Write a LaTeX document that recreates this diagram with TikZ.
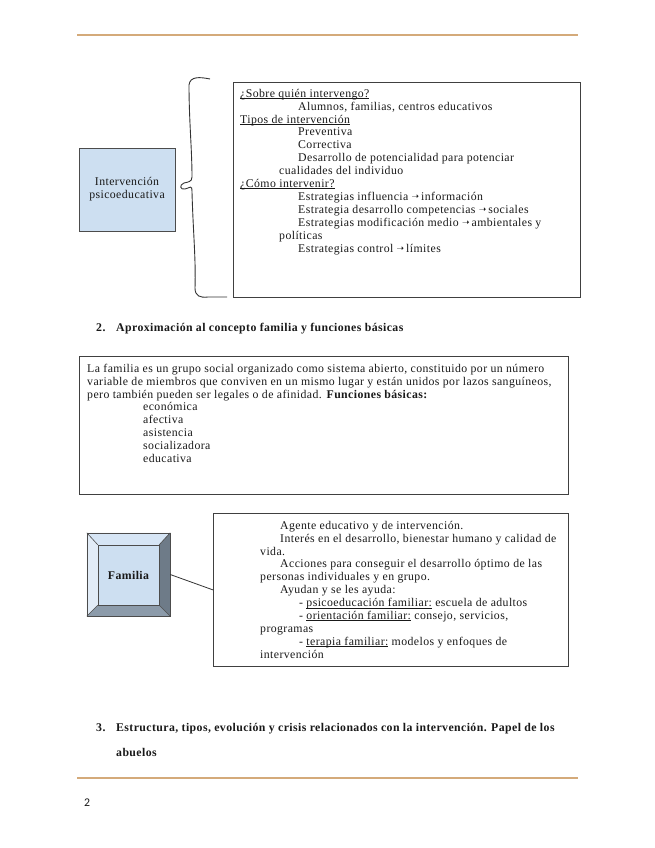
\documentclass[tikz,border=0pt]{standalone}
\usepackage{fontspec}
\setmainfont[LetterSpace=3.5]{Liberation Serif}
\newfontfamily\pagefont{Carlito}
\newfontfamily\simbolos{DejaVu Sans}
\usetikzlibrary{positioning}

\definecolor{reglaocre}{RGB}{212,170,122}
\definecolor{azulcaja}{RGB}{205,223,241}
\definecolor{biselclaro}{RGB}{226,236,247}
\definecolor{biselalto}{RGB}{214,229,245}
\definecolor{biseloscuro}{RGB}{110,123,136}
\definecolor{biselbajo}{RGB}{140,155,170}

\newcommand{\flecha}{\raisebox{0.1ex}{\simbolos\fontsize{9}{9}\selectfont ➝}}
\newcommand{\subrayar}[1]{\setbox0\hbox{#1}\rlap{\rule[-1.4pt]{\wd0}{0.5pt}}\box0\relax}

\begin{document}
\begin{tikzpicture}[
            x=1pt, y=-1pt,
            every node/.style={font=\fontsize{11.8}{12.9}\selectfont, inner sep=0pt, text=black!90},
            texto/.style={
                    align=left,
                    anchor=north west
                },
            marco/.style={
                    rectangle,
                    draw=black!75,
                    line width=0.8pt,
                    anchor=north west
                },
            concepto/.style={
                    rectangle,
                    draw=black!70,
                    fill=azulcaja,
                    line width=0.8pt,
                    minimum width=96pt,
                    minimum height=83pt,
                    align=center
                },
            titulo/.style={
                    font=\fontsize{11.8}{12.9}\selectfont\bfseries,
                    anchor=base west
                },
            regla/.style={
                    draw=reglaocre,
                    line width=2.6pt
                },
            enlace/.style={
                    draw=black!80,
                    line width=0.8pt
                }
            ]

            \useasboundingbox (0,0) rectangle (655,848);

            % Reglas de pagina
            \coordinate (ra) at (77,35);
            \coordinate (rb) at (578,35);
            \coordinate (rc) at (77,778);
            \coordinate (rd) at (578,778);
            \draw [regla] (ra) -- (rb);
            \draw [regla] (rc) -- (rd);

            % Intervencion psicoeducativa
            \node (interv) [concepto] at (127,189.5) {Intervención\\psicoeducativa};

            \node (quienbox) [marco, minimum width=347pt, minimum height=215pt] at (233,82) {};

            \node (quientxt) [texto] at (240,88) {\strut\subrayar{¿Sobre quién intervengo?}\\
                \hspace*{58pt}Alumnos, familias, centros educativos\\
                \subrayar{Tipos de intervención}\\
                \hspace*{58pt}Preventiva\\
                \hspace*{58pt}Correctiva\\
                \hspace*{58pt}Desarrollo de potencialidad para potenciar\\
                \hspace*{39pt}cualidades del individuo\\
                \subrayar{¿Cómo intervenir?}\\
                \hspace*{58pt}Estrategias influencia \flecha\,información\\
                \hspace*{58pt}Estrategia desarrollo competencias \flecha\,sociales\\
                \hspace*{58pt}Estrategias modificación medio \flecha\,ambientales y\\
                \hspace*{39pt}políticas\\
                \hspace*{58pt}Estrategias control \flecha\,límites};

            % Llave
            \draw [black!80, line width=0.9pt]
                (210,79) .. controls (200,77) and (190,76) .. (189,85)
                .. controls (189,120) and (192,150) .. (192,177)
                .. controls (192,182) and (188,182) .. (184,183)
                .. controls (179,185) and (180,190) .. (185,189)
                .. controls (190,188) and (192,184) .. (192,192)
                .. controls (193,230) and (196,260) .. (195,288)
                .. controls (195,296) and (200,298) .. (208,297) -- (227,297);

            % Seccion 2
            \node (num2) [titulo] at (96,331) {2.};
            \node (tit2) [titulo] at (116,331) {Aproximación al concepto familia y funciones básicas};

            \node (famdef) [marco, minimum width=489pt, minimum height=138pt] at (79,356) {};

            \node (famtxt) [texto] at (87,363) {\strut La familia es un grupo social organizado como sistema abierto, constituido por un número\\
                variable de miembros que conviven en un mismo lugar y están unidos por lazos sanguíneos,\\
                pero también pueden ser legales o de afinidad. \textbf{Funciones básicas:}\\
                \hspace*{56pt}económica\\
                \hspace*{56pt}afectiva\\
                \hspace*{56pt}asistencia\\
                \hspace*{56pt}socializadora\\
                \hspace*{56pt}educativa};

            % Familia
            \node (familia) [minimum width=83pt, minimum height=83pt] at (128.5,574.5) {};
            \node (cara) [minimum width=61pt, minimum height=60pt] at (128.5,575) {};
            \fill [biselalto] (familia.north west) -- (familia.north east) -- (cara.north east) -- (cara.north west) -- cycle;
            \fill [biselclaro] (familia.north west) -- (cara.north west) -- (cara.south west) -- (familia.south west) -- cycle;
            \fill [biseloscuro] (familia.north east) -- (familia.south east) -- (cara.south east) -- (cara.north east) -- cycle;
            \fill [biselbajo] (familia.south west) -- (cara.south west) -- (cara.south east) -- (familia.south east) -- cycle;
            \fill [azulcaja] (cara.north west) rectangle (cara.south east);
            \draw [black!70, line width=0.6pt] (familia.north west) rectangle (familia.south east);
            \draw [black!70, line width=0.6pt] (cara.north west) rectangle (cara.south east);
            \draw [black!70, line width=0.6pt] (familia.north west) -- (cara.north west);
            \draw [black!70, line width=0.6pt] (familia.north east) -- (cara.north east);
            \draw [black!70, line width=0.6pt] (familia.south west) -- (cara.south west);
            \draw [black!70, line width=0.6pt] (familia.south east) -- (cara.south east);
            \node (famlabel) [font=\fontsize{11.8}{12.9}\selectfont\bfseries] at (cara) {Familia};

            \node (callout) [marco, minimum width=355pt, minimum height=153pt] at (213,513) {};

            \node (calltxt) [texto] at (260,520) {\strut\hspace*{20pt}Agente educativo y de intervención.\\
                \hspace*{20pt}Interés en el desarrollo, bienestar humano y calidad de\\
                vida.\\
                \hspace*{20pt}Acciones para conseguir el desarrollo óptimo de las\\
                personas individuales y en grupo.\\
                \hspace*{20pt}Ayudan y se les ayuda:\\
                \hspace*{39pt}- \subrayar{psicoeducación familiar:} escuela de adultos\\
                \hspace*{39pt}- \subrayar{orientación familiar:} consejo, servicios,\\
                programas\\
                \hspace*{39pt}- \subrayar{terapia familiar:} modelos y enfoques de\\
                intervención};

            \draw [enlace] (familia.east) -- (callout.west);

            % Seccion 3
            \node (num3) [titulo] at (96,731) {3.};
            \node (tit3) [titulo, align=left, anchor=north west] at (116,722) {\strut Estructura, tipos, evolución y crisis relacionados con la intervención. Papel de los\\[12pt]abuelos};

            % Numero de pagina
            \node (pagina) [font=\pagefont\fontsize{11.8}{12.9}\selectfont, anchor=base west] at (84,806) {2};

        \end{tikzpicture}
\end{document}
